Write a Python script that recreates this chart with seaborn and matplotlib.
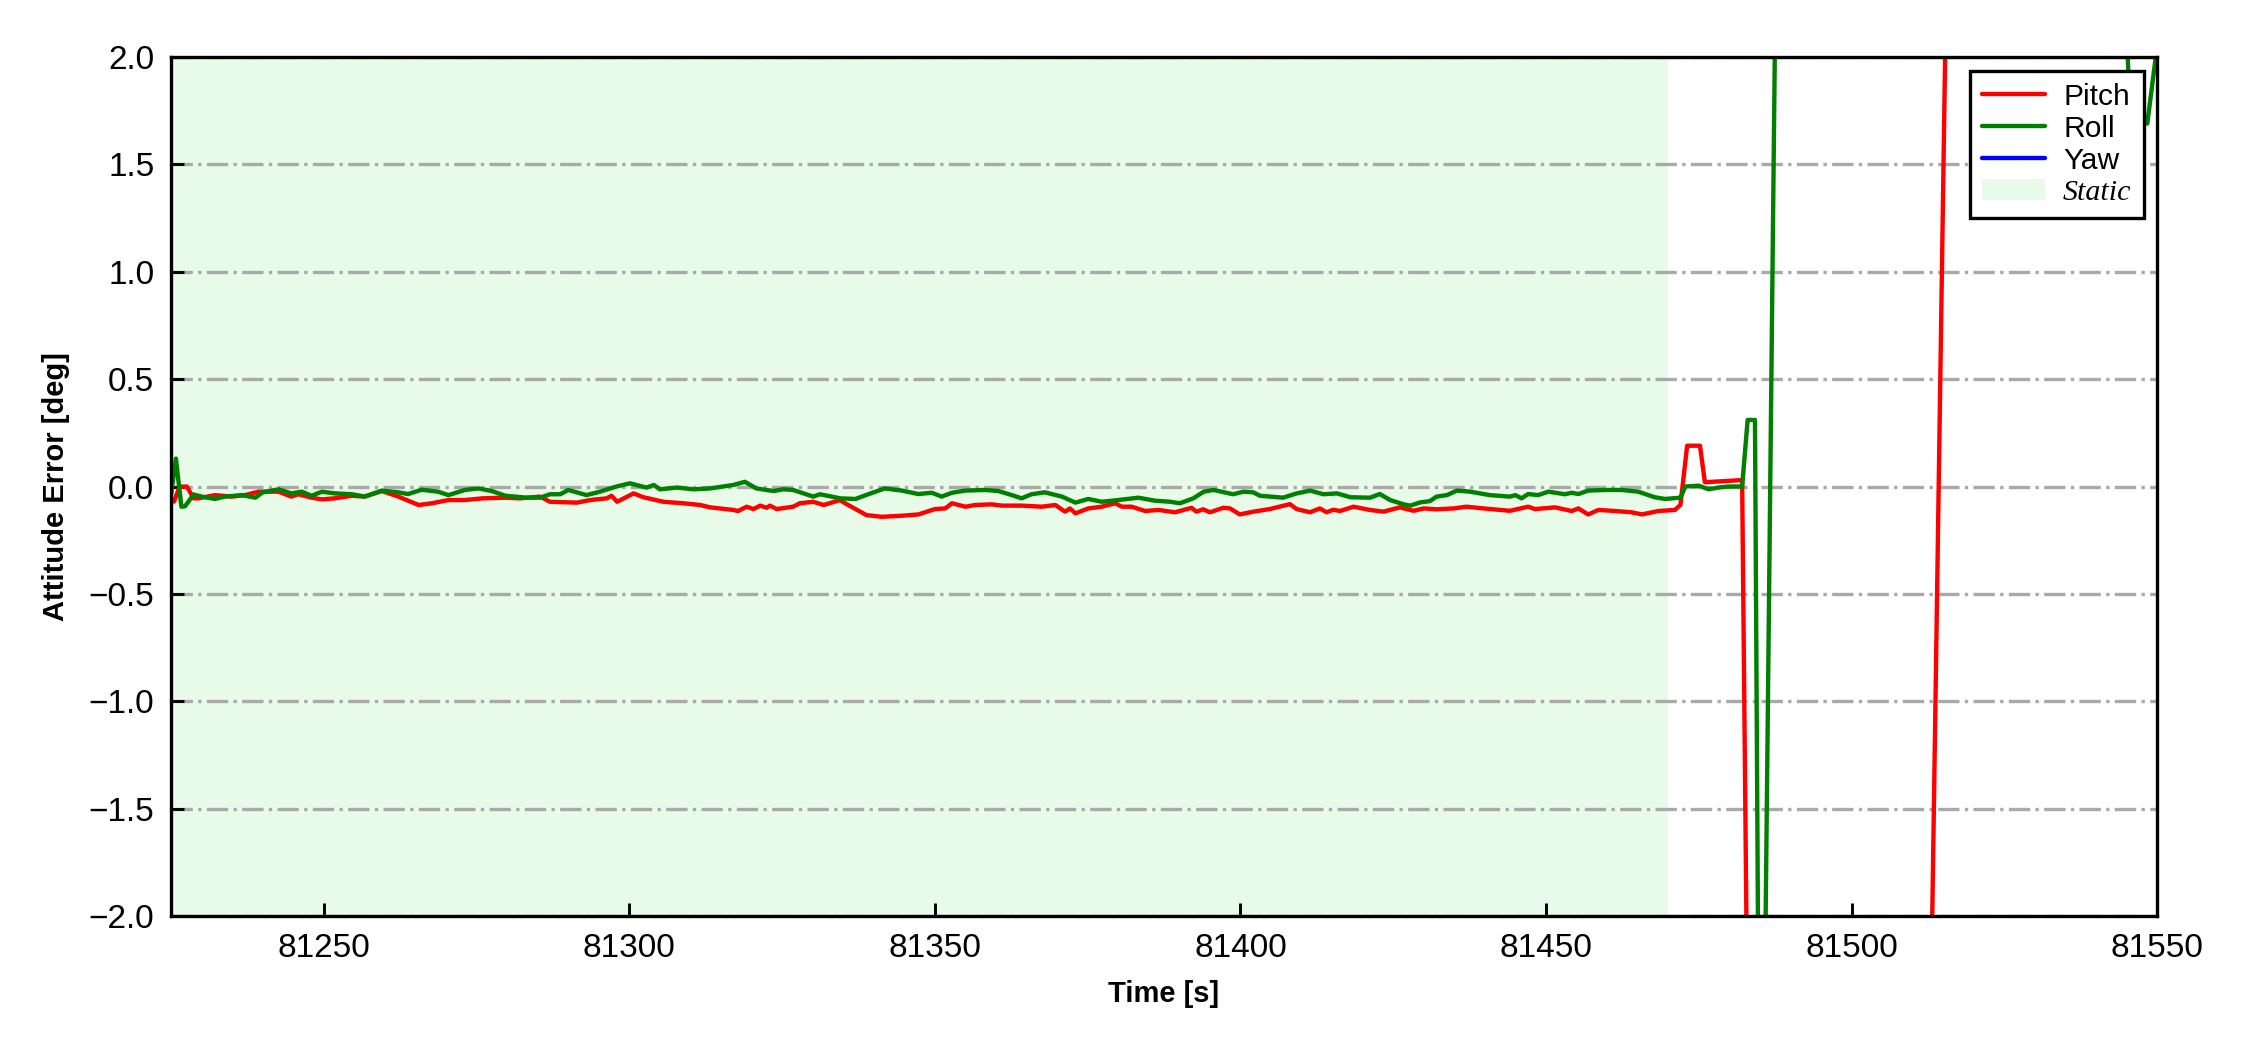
import numpy as np
import pandas as pd
import matplotlib
matplotlib.use("Agg")
import matplotlib.pyplot as plt
import seaborn as sns

# attitude error readings (deg) vs GPS time of week (s)
pitch_t = [81225.0, 81225.5, 81226.4, 81227.6, 81228.7, 81229.5, 81232.2, 81234.9, 81237.1, 81239.3,
           81242.6, 81244.7, 81245.8, 81248.0, 81249.7, 81251.8, 81254.6, 81256.7, 81259.5, 81262.2,
           81265.5, 81267.7, 81270.4, 81273.1, 81276.0, 81279.7, 81282.1, 81285.4, 81287.0, 81291.4,
           81293.6, 81296.3, 81297.1, 81298.0, 81300.7, 81302.3, 81305.6, 81308.8, 81311.6, 81313.2,
           81317.0, 81317.8, 81319.2, 81320.3, 81321.4, 81322.5, 81323.0, 81324.1, 81326.8, 81327.9,
           81330.1, 81331.8, 81334.5, 81335.3, 81338.8, 81341.3, 81344.6, 81347.3, 81350.0, 81351.7,
           81352.8, 81355.0, 81356.6, 81359.3, 81361.0, 81364.2, 81367.5, 81369.7, 81371.3, 81372.1,
           81373.0, 81375.1, 81377.3, 81379.5, 81380.6, 81382.2, 81384.4, 81386.6, 81389.3, 81390.7,
           81392.0, 81392.8, 81393.9, 81395.0, 81397.2, 81398.3, 81399.9, 81402.1, 81404.8, 81408.1,
           81409.2, 81411.4, 81413.0, 81414.1, 81415.2, 81416.3, 81418.5, 81421.2, 81423.4, 81426.1,
           81428.3, 81430.0, 81432.1, 81434.9, 81437.0, 81439.8, 81444.1, 81447.1, 81448.2, 81451.5,
           81454.2, 81455.3, 81456.9, 81458.6, 81461.3, 81464.0, 81465.7, 81468.4, 81471.1, 81472.0,
           81473.1, 81475.2, 81476.0, 81479.0, 81481.7, 81482.1, 81483.0, 81513.0, 81516.0, 81550.0]
pitch_err = [-0.055, -0.070, -0.001, 0.000, -0.055, -0.055, -0.040, -0.047, -0.040, -0.024,
             -0.024, -0.047, -0.036, -0.052, -0.060, -0.055, -0.043, -0.047, -0.021, -0.047,
             -0.086, -0.078, -0.063, -0.063, -0.055, -0.052, -0.055, -0.047, -0.071, -0.075,
             -0.063, -0.055, -0.043, -0.071, -0.032, -0.050, -0.071, -0.078, -0.086, -0.097,
             -0.109, -0.114, -0.094, -0.105, -0.089, -0.099, -0.089, -0.105, -0.094, -0.078,
             -0.071, -0.086, -0.063, -0.078, -0.133, -0.141, -0.136, -0.130, -0.105, -0.102,
             -0.078, -0.094, -0.086, -0.083, -0.089, -0.089, -0.094, -0.086, -0.117, -0.102,
             -0.125, -0.102, -0.094, -0.078, -0.094, -0.094, -0.114, -0.109, -0.120, -0.109,
             -0.099, -0.117, -0.106, -0.120, -0.099, -0.102, -0.130, -0.117, -0.105, -0.082,
             -0.105, -0.120, -0.102, -0.120, -0.108, -0.114, -0.094, -0.109, -0.117, -0.097,
             -0.113, -0.102, -0.106, -0.102, -0.094, -0.102, -0.113, -0.094, -0.105, -0.097,
             -0.114, -0.102, -0.130, -0.109, -0.114, -0.120, -0.130, -0.114, -0.109, -0.086,
             0.190, 0.190, 0.020, 0.025, 0.030, 0.030, -2.600, -2.400, 3.300, 3.500]

roll_t = [81225.0, 81225.8, 81226.7, 81227.3, 81228.7, 81230.0, 81232.2, 81233.8, 81236.6, 81238.8,
          81240.0, 81242.6, 81244.7, 81246.4, 81248.0, 81249.7, 81251.8, 81254.6, 81256.7, 81259.5,
          81262.2, 81263.8, 81266.0, 81268.7, 81270.4, 81273.1, 81275.3, 81277.5, 81279.7, 81283.2,
          81285.4, 81287.0, 81288.7, 81290.0, 81293.0, 81295.2, 81297.9, 81300.1, 81302.8, 81304.0,
          81305.0, 81307.8, 81310.5, 81313.2, 81317.0, 81318.9, 81320.8, 81323.6, 81325.2, 81326.8,
          81330.1, 81331.2, 81334.5, 81337.0, 81339.1, 81341.8, 81344.6, 81347.3, 81349.5, 81351.1,
          81352.8, 81355.0, 81358.2, 81360.4, 81362.6, 81364.2, 81365.8, 81368.0, 81370.8, 81373.0,
          81375.1, 81377.3, 81380.0, 81383.3, 81386.0, 81388.5, 81390.1, 81392.3, 81394.0, 81395.6,
          81398.8, 81400.5, 81402.1, 81403.2, 81407.0, 81409.2, 81411.4, 81413.6, 81415.8, 81418.0,
          81421.2, 81422.8, 81424.5, 81426.7, 81427.8, 81429.4, 81431.0, 81432.1, 81433.8, 81435.4,
          81437.6, 81440.8, 81444.1, 81445.0, 81446.0, 81447.1, 81448.7, 81450.4, 81453.1, 81454.2,
          81455.3, 81456.9, 81459.7, 81462.4, 81465.1, 81467.8, 81469.5, 81472.0, 81472.8, 81475.0,
          81476.6, 81478.2, 81479.8, 81482.1, 81483.0, 81484.2, 81485.2, 81485.8, 81488.0, 81544.5,
          81545.3, 81548.4, 81550.0]
roll_err = [-0.040, 0.130, -0.094, -0.092, -0.037, -0.047, -0.058, -0.047, -0.040, -0.052,
            -0.027, -0.013, -0.032, -0.024, -0.043, -0.024, -0.032, -0.036, -0.047, -0.019,
            -0.027, -0.035, -0.015, -0.024, -0.040, -0.016, -0.009, -0.021, -0.043, -0.052,
            -0.052, -0.036, -0.036, -0.016, -0.040, -0.024, 0.000, 0.015, -0.005, 0.007,
            -0.013, -0.005, -0.013, -0.009, 0.007, 0.022, -0.009, -0.021, -0.013, -0.016,
            -0.047, -0.036, -0.055, -0.058, -0.036, -0.009, -0.019, -0.035, -0.029, -0.047,
            -0.029, -0.019, -0.016, -0.021, -0.040, -0.055, -0.036, -0.027, -0.047, -0.075,
            -0.058, -0.071, -0.063, -0.052, -0.066, -0.071, -0.078, -0.055, -0.024, -0.016,
            -0.036, -0.024, -0.027, -0.043, -0.052, -0.032, -0.019, -0.036, -0.032, -0.050,
            -0.052, -0.035, -0.063, -0.083, -0.089, -0.074, -0.068, -0.047, -0.040, -0.019,
            -0.024, -0.040, -0.047, -0.040, -0.055, -0.035, -0.040, -0.024, -0.036, -0.029,
            -0.035, -0.019, -0.016, -0.016, -0.024, -0.050, -0.058, -0.052, 0.000, 0.004,
            -0.013, -0.005, 0.000, 0.000, 0.310, 0.310, -4.500, -2.400, 3.500, 2.500,
            1.930, 1.690, 2.050]

# yaw error never enters the plotted range
yaw_t = []
yaw_err = []

static_start = 81225
static_end = 81470

x_ticks = [81250, 81300, 81350, 81400, 81450, 81500, 81550]
y_ticks = [-2.0, -1.5, -1.0, -0.5, 0.0, 0.5, 1.0, 1.5, 2.0]

sns.set_style("white")
plt.rcParams['font.family'] = ['Liberation Sans', 'DejaVu Sans']
plt.rcParams['axes.unicode_minus'] = True
for k in ['text.color', 'axes.labelcolor', 'xtick.color', 'ytick.color']:
    plt.rcParams[k] = 'black'

fig, ax = plt.subplots(figsize=(7.5, 3.5), dpi=300)
fig.subplots_adjust(left=0.076, right=0.9587, top=0.9457, bottom=0.1276)

pitch = pd.DataFrame({'t': pitch_t, 'err': pitch_err})
roll = pd.DataFrame({'t': roll_t, 'err': roll_err})

ax.axvspan(static_start, static_end, color='lightgreen', alpha=0.2, lw=0, label='Static', zorder=0)
sns.lineplot(data=pitch, x='t', y='err', ax=ax, color='red', lw=1.05, sort=False, estimator=None, label='Pitch')
sns.lineplot(data=roll, x='t', y='err', ax=ax, color='green', lw=1.05, sort=False, estimator=None, label='Roll')
ax.plot(yaw_t, yaw_err, color='blue', lw=1.05, label='Yaw')

ax.set_xlim(81225, 81550)
ax.set_ylim(-2.0, 2.0)
ax.set_xticks(x_ticks)
ax.set_yticks(y_ticks)
ax.yaxis.grid(True, linestyle='-.', color='darkgray', lw=0.8)
ax.xaxis.grid(False)
ax.set_axisbelow(True)

ax.tick_params(direction='in', length=3.2, width=0.7, labelsize=8, pad=4,
               bottom=True, left=True, top=False, right=False)
for s in ax.spines.values():
    s.set_color('black')
    s.set_linewidth(0.8)

ax.set_xlabel('Time [s]', fontsize=7, fontweight='bold', labelpad=4)
ax.set_ylabel('Attitude Error [deg]', fontsize=7, fontweight='bold', labelpad=4.5)

handles, labels = ax.get_legend_handles_labels()
order = [labels.index(n) for n in ['Pitch', 'Roll', 'Yaw', 'Static']]
leg = ax.legend([handles[i] for i in order], [labels[i] for i in order],
                loc='upper right', fontsize=7.2, fancybox=False, framealpha=1,
                edgecolor='black', labelspacing=0.14, borderaxespad=0.45,
                handlelength=2.1, handletextpad=0.6, borderpad=0.4)
leg.get_frame().set_linewidth(0.8)
st = leg.get_texts()[3]
st.set_family(['Liberation Serif', 'DejaVu Serif'])
st.set_style('italic')

fig.savefig('out.png', dpi=300)
